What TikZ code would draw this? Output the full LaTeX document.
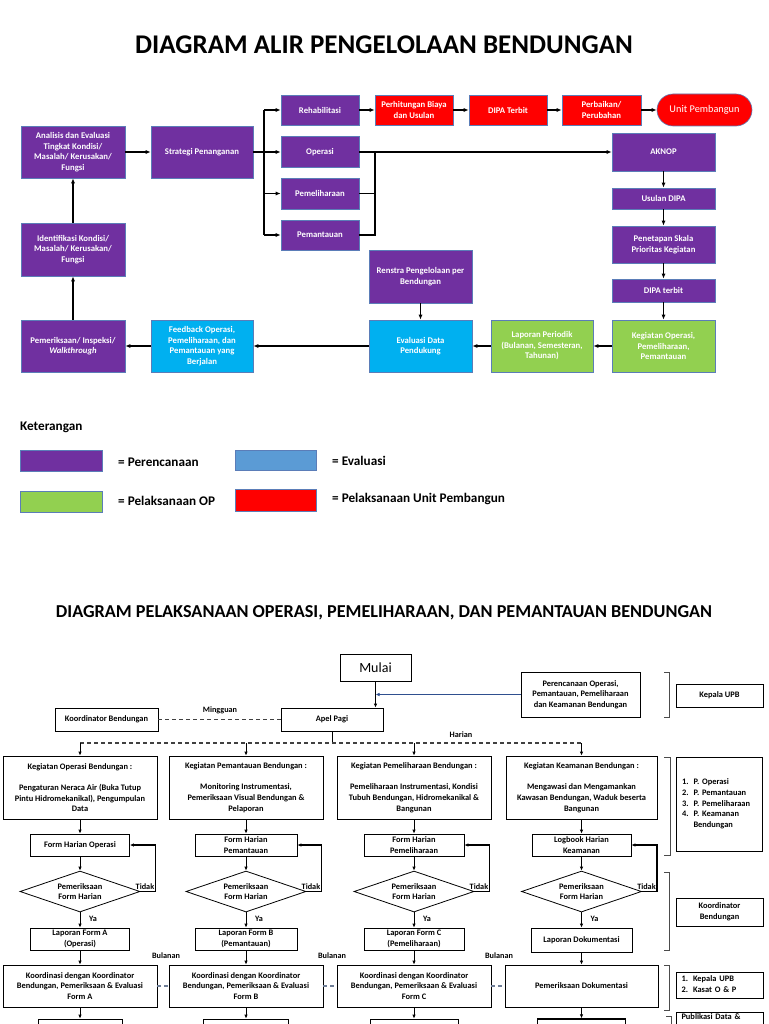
\documentclass[tikz,border=0pt]{standalone}
\usepackage{fontspec}
\setmainfont{Carlito}
\usetikzlibrary{arrows.meta,shapes.geometric}
\definecolor{purp}{HTML}{7030A0}
\definecolor{cyanb}{HTML}{00B0F0}
\definecolor{greenb}{HTML}{92D050}
\definecolor{redb}{HTML}{FF0000}
\definecolor{legblue}{HTML}{5B9BD5}
\definecolor{bord}{HTML}{5B7DB8}
\definecolor{dblue}{HTML}{2F4F8F}
\definecolor{dgray}{HTML}{6E7D96}
\begin{document}
\begin{tikzpicture}[x=1pt,y=-1pt,
  sbox/.style={draw=bord, line width=0.6pt, text=white, align=center, inner sep=0pt, font=\bfseries\fontsize{8.7}{10.5}\selectfont},
  pbox/.style={sbox, fill=purp},
  cbox/.style={sbox, fill=cyanb},
  gbox/.style={sbox, fill=greenb},
  rbox/.style={sbox, fill=redb},
  arr/.style={-{Latex[length=5pt,width=4pt]}, line width=1.3pt},
  ln/.style={line width=1.4pt},
  wbox/.style={draw=black, line width=0.8pt, fill=white, align=center, inner sep=0pt, font=\bfseries\fontsize{8.4}{10.7}\selectfont},
  dia/.style={wbox, diamond, aspect=2.9, minimum width=120, minimum height=41},
  dsh/.style={dash pattern=on 4pt off 3pt, line width=1.1pt, draw=black!75},
  dsh2/.style={dash pattern=on 4pt off 3pt, line width=1.1pt, draw=dgray},
  barr/.style={-{Latex[length=4pt,width=3.5pt]}, line width=0.9pt},
  larr/.style={-{Latex[length=4pt,width=3.5pt]}, line width=1.4pt},
  lbl/.style={font=\bfseries\fontsize{8.2}{10}\selectfont, inner sep=0pt},
  legt/.style={font=\bfseries\fontsize{13.2}{15}\selectfont, inner sep=0pt, anchor=west},
  brk/.style={line width=1pt, draw=black!70}
]
\useasboundingbox (0,0) rectangle (768,1024);
\fill[white] (0,0) rectangle (768,1024);

% ---------- Title 1 ----------
\node[font=\bfseries\fontsize{27}{32}\selectfont, inner sep=0pt] (t1) at (384,45) {DIAGRAM ALIR PENGELOLAAN BENDUNGAN};

% ---------- Top diagram ----------
\node[pbox,minimum width=104,minimum height=52] (analisis) at (73,152) {Analisis dan Evaluasi\\Tingkat Kondisi/\\Masalah/ Kerusakan/\\Fungsi};
\node[pbox,minimum width=102,minimum height=52] (strategi) at (202,152) {Strategi Penanganan};
\node[pbox,minimum width=78,minimum height=30] (rehab) at (320,110) {Rehabilitasi};
\node[pbox,minimum width=78,minimum height=31] (operasi) at (320,152) {Operasi};
\node[pbox,minimum width=78,minimum height=31] (pemel) at (320,193.5) {Pemeliharaan};
\node[pbox,minimum width=78,minimum height=30] (pemant) at (320,235) {Pemantauan};
\node[pbox,minimum width=104,minimum height=53] (identif) at (73,249.5) {Identifikasi Kondisi/\\Masalah/ Kerusakan/\\Fungsi};
\node[pbox,minimum width=104,minimum height=52] (periksa) at (73,346) {Pemeriksaan/ Inspeksi/\\\textit{Walkthrough}};
\node[cbox,minimum width=102,minimum height=52] (feedback) at (202,346) {Feedback Operasi,\\Pemeliharaan, dan\\Pemantauan yang\\Berjalan};
\node[cbox,minimum width=103,minimum height=52] (evaldata) at (420.5,346) {Evaluasi Data\\Pendukung};
\node[pbox,minimum width=103,minimum height=53] (renstra) at (420.5,276.5) {Renstra Pengelolaan per\\Bendungan};
\node[gbox,minimum width=102,minimum height=52] (lapper) at (542,346) {Laporan Periodik\\(Bulanan, Semesteran,\\Tahunan)};
\node[gbox,minimum width=103,minimum height=52] (kegop) at (663.5,346) {Kegiatan Operasi,\\Pemeliharaan,\\Pemantauan};
\node[pbox,minimum width=103,minimum height=23] (dipat) at (663.5,290.5) {DIPA terbit};
\node[pbox,minimum width=103,minimum height=37] (penetapan) at (663.5,244.5) {Penetapan Skala\\Prioritas Kegiatan};
\node[pbox,minimum width=103,minimum height=21] (usulan) at (663.5,198.5) {Usulan DIPA};
\node[pbox,minimum width=103,minimum height=38] (aknop) at (663.5,152) {AKNOP};
\node[rbox,minimum width=78,minimum height=30] (hitung) at (414,110) {Perhitungan Biaya\\dan Usulan};
\node[rbox,minimum width=78,minimum height=30] (dipaT) at (508,110) {DIPA Terbit};
\node[rbox,minimum width=79,minimum height=30] (perbaikan) at (601.5,110) {Perbaikan/\\Perubahan};
\node[rbox,minimum width=95,minimum height=32,rounded corners=16pt,font=\fontsize{10.3}{12}\selectfont] (unit) at (704.5,110) {Unit Pembangun};

\draw[arr] (analisis) -- (strategi);
\coordinate (br) at (264,152);
\draw[ln] (strategi.east) -- (br);
\draw[ln] (br |- rehab.west) -- (br |- pemant.west);
\draw[arr] (br |- rehab.west) -- (rehab.west);
\draw[arr] (br) -- (operasi.west);
\draw[arr] (br |- pemel.west) -- (pemel.west);
\draw[arr] (br |- pemant.west) -- (pemant.west);
\draw[arr] (operasi.east) -- (operasi.east -| aknop.west);
\coordinate (jn) at (375,152);
\draw[ln] (pemel.east) -- (jn |- pemel.east);
\draw[ln] (pemant.east) -- (jn |- pemant.east) -- (jn);
\draw[arr] (rehab) -- (hitung);
\draw[arr] (hitung) -- (dipaT);
\draw[arr] (dipaT) -- (perbaikan);
\draw[arr] (perbaikan) -- (unit);
\draw[arr] (aknop) -- (usulan);
\draw[arr] (usulan) -- (penetapan);
\draw[arr] (penetapan) -- (dipat);
\draw[arr] (dipat) -- (kegop);
\draw[arr] (kegop) -- (lapper);
\draw[arr] (lapper) -- (evaldata);
\draw[arr] (renstra) -- (evaldata);
\draw[arr] (evaldata) -- (feedback);
\draw[arr] (feedback) -- (periksa);
\draw[arr] (periksa) -- (identif);
\draw[arr] (identif) -- (analisis);

% ---------- Legend ----------
\node[legt] (ket) at (20,427) {Keterangan};
\node[pbox, minimum width=82, minimum height=21] (lp) at (61,460.5) {};
\node[sbox, fill=legblue, minimum width=81, minimum height=20] (lb) at (275.5,460) {};
\node[gbox, minimum width=82, minimum height=21] (lg) at (61,501.5) {};
\node[rbox, minimum width=81, minimum height=22] (lr) at (275.5,500) {};
\node[legt] (ltp) at (118,462) {= Perencanaan};
\node[legt] (ltb) at (332,461) {= Evaluasi};
\node[legt] (ltg) at (118,501) {= Pelaksanaan OP};
\node[legt] (ltr) at (332,499) {= Pelaksanaan Unit Pembangun};

% ---------- Title 2 ----------
\node[font=\bfseries\fontsize{18.2}{22}\selectfont, inner sep=0pt] (t2) at (384,613) {DIAGRAM PELAKSANAAN OPERASI, PEMELIHARAAN, DAN PEMANTAUAN BENDUNGAN};

% ---------- Bottom diagram ----------
\node[wbox, minimum width=71, minimum height=27, font=\fontsize{14}{16}\selectfont] (mulai) at (375.5,667.5) {Mulai};
\node[wbox, minimum width=102, minimum height=23] (apel) at (332,719.5) {Apel Pagi};
\node[wbox, minimum width=103, minimum height=23] (koordL) at (106.5,719.5) {Koordinator Bendungan};
\node[wbox, minimum width=119, minimum height=45] (renc) at (580.5,694.5) {Perencanaan Operasi,\\Pemantauan, Pemeliharaan\\dan Keamanan Bendungan};
\node[wbox, minimum width=87, minimum height=23] (kepala) at (719.5,695.5) {Kepala UPB};

\draw[barr] (mulai.south) -- (mulai.south |- apel.north);
\draw[-{Latex[length=4pt,width=3.5pt]}, draw=dblue, line width=0.8pt] (renc.west) -- (renc.west -| mulai.south);
\draw[dsh] (koordL) -- (apel);
\node[lbl] (lming) at (220,710) {Mingguan};

\node[wbox, minimum width=154, minimum height=63] (k1) at (80,787.5) {Kegiatan Operasi Bendungan :\\[10.7pt]Pengaturan Neraca Air (Buka Tutup\\Pintu Hidromekanikal), Pengumpulan\\Data};
\node[wbox, minimum width=154, minimum height=63] (k2) at (246,787.5) {Kegiatan Pemantauan Bendungan :\\[10.7pt]Monitoring Instrumentasi,\\Pemeriksaan Visual Bendungan \&\\Pelaporan};
\node[wbox, minimum width=154, minimum height=63] (k3) at (414,787.5) {Kegiatan Pemeliharaan Bendungan :\\[10.7pt]Pemeliharaan Instrumentasi, Kondisi\\Tubuh Bendungan, Hidromekanikal \&\\Bangunan};
\node[wbox, minimum width=151, minimum height=63] (k4) at (581.5,787.5) {Kegiatan Keamanan Bendungan :\\[10.7pt]Mengawasi dan Mengamankan\\Kawasan Bendungan, Waduk beserta\\Bangunan};

\coordinate (hd) at (332,743);
\draw[line width=0.9pt] (apel.south) -- (hd);
\draw[dsh] (k1.north |- hd) -- (k4.north |- hd);
\draw[barr] (k1.north |- hd) -- (k1.north);
\draw[barr] (k2.north |- hd) -- (k2.north);
\draw[barr] (k3.north |- hd) -- (k3.north);
\draw[barr] (k4.north |- hd) -- (k4.north);
\node[lbl] (lhar) at (461,735) {Harian};

\node[wbox, minimum width=99, minimum height=22] (f1) at (80,845) {Form Harian Operasi};
\node[wbox, minimum width=102, minimum height=22] (f2) at (246,845) {Form Harian\\Pemantauan};
\node[wbox, minimum width=100, minimum height=22] (f3) at (414,845) {Form Harian\\Pemeliharaan};
\node[wbox, minimum width=99, minimum height=22] (f4) at (581.5,845) {Logbook Harian\\Keamanan};

\node[dia] (d1) at (80,891.5) {Pemeriksaan\\Form Harian};
\node[dia] (d2) at (246,891.5) {Pemeriksaan\\Form Harian};
\node[dia] (d3) at (414,891.5) {Pemeriksaan\\Form Harian};
\node[dia] (d4) at (581.5,891.5) {Pemeriksaan\\Form Harian};

\node[wbox, minimum width=99, minimum height=22] (l1) at (80,939) {Laporan Form A\\(Operasi)};
\node[wbox, minimum width=102, minimum height=22] (l2) at (246,939) {Laporan Form B\\(Pemantauan)};
\node[wbox, minimum width=100, minimum height=22] (l3) at (414,939) {Laporan Form C\\(Pemeliharaan)};
\node[wbox, minimum width=101, minimum height=24] (l4) at (581.5,940) {Laporan Dokumentasi};

\node[wbox, minimum width=154, minimum height=42] (ko1) at (80,986) {Koordinasi dengan Koordinator\\Bendungan, Pemeriksaan \& Evaluasi\\Form A};
\node[wbox, minimum width=154, minimum height=42] (ko2) at (246,986) {Koordinasi dengan Koordinator\\Bendungan, Pemeriksaan \& Evaluasi\\Form B};
\node[wbox, minimum width=154, minimum height=42] (ko3) at (414,986) {Koordinasi dengan Koordinator\\Bendungan, Pemeriksaan \& Evaluasi\\Form C};
\node[wbox, minimum width=153, minimum height=42] (ko4) at (581.5,986) {Pemeriksaan Dokumentasi};

\node[wbox, minimum width=84, minimum height=22] (bb1) at (80,1030) {};
\node[wbox, minimum width=85, minimum height=22] (bb2) at (246,1030) {};
\node[wbox, minimum width=88, minimum height=22] (bb3) at (414,1030) {};
\node[wbox, minimum width=88, minimum height=22, line width=1.4pt] (bb4) at (581.5,1030) {};

\foreach \c in {1,2,3,4}{
  \draw[barr] (k\c) -- (f\c);
  \draw[barr] (f\c) -- (d\c);
  \draw[barr] (d\c) -- (l\c);
  \draw[barr] (l\c) -- (ko\c);
  \draw[barr] (ko\c) -- (bb\c);
  \draw[larr] (d\c.east) -- ++(15,0) |- (f\c.east);
  \node[lbl, anchor=south east] at ([shift={(14,-1.5)}]d\c.east) {Tidak};
  \node[lbl, anchor=west] at ([shift={(9,6)}]d\c.south) {Ya};
}
\node[lbl] (lb1) at (166,956) {Bulanan};
\node[lbl] (lb2) at (332,956) {Bulanan};
\node[lbl] (lb3) at (499,956) {Bulanan};
\draw[dsh2] (ko1) -- (ko2);
\draw[dsh2] (ko2) -- (ko3);
\draw[dsh2] (ko3) -- (ko4);

% right column
\draw[brk] (664,672) -- (669,672) -- (669,717) -- (664,717);
\draw[brk] (664,757) -- (670,757) -- (670,855) -- (664,855);
\draw[brk] (664,872) -- (669,872) -- (669,950) -- (664,950);
\draw[brk] (664,965) -- (669,965) -- (669,1010) -- (664,1010);
\draw[brk] (666,1016) -- (671,1016) -- (671,1030);

\node[wbox, minimum width=86, minimum height=94, text width=74, align=left] (plist) at (719,804) {\begin{tabular}{@{}l@{\hspace{5pt}}l@{}}1. & P. Operasi\\2. & P. Pemantauan\\3. & P. Pemeliharaan\\4. & P. Keamanan\\ & Bendungan\end{tabular}};
\node[wbox, minimum width=87, minimum height=28] (koorB) at (719.5,912) {Koordinator\\Bendungan};
\node[wbox, minimum width=87, minimum height=26, text width=76, align=left] (kasat) at (719.5,985) {\begin{tabular}{@{}l@{\hspace{5pt}}l@{}}1. & Kepala UPB\\2. & Kasat O \& P\end{tabular}};
\node[wbox, anchor=north, minimum width=87, inner ysep=1.5pt, text width=76, align=left, text depth=14pt] (pub) at (719.5,1012) {Publikasi Data \&};
\end{tikzpicture}
\end{document}
